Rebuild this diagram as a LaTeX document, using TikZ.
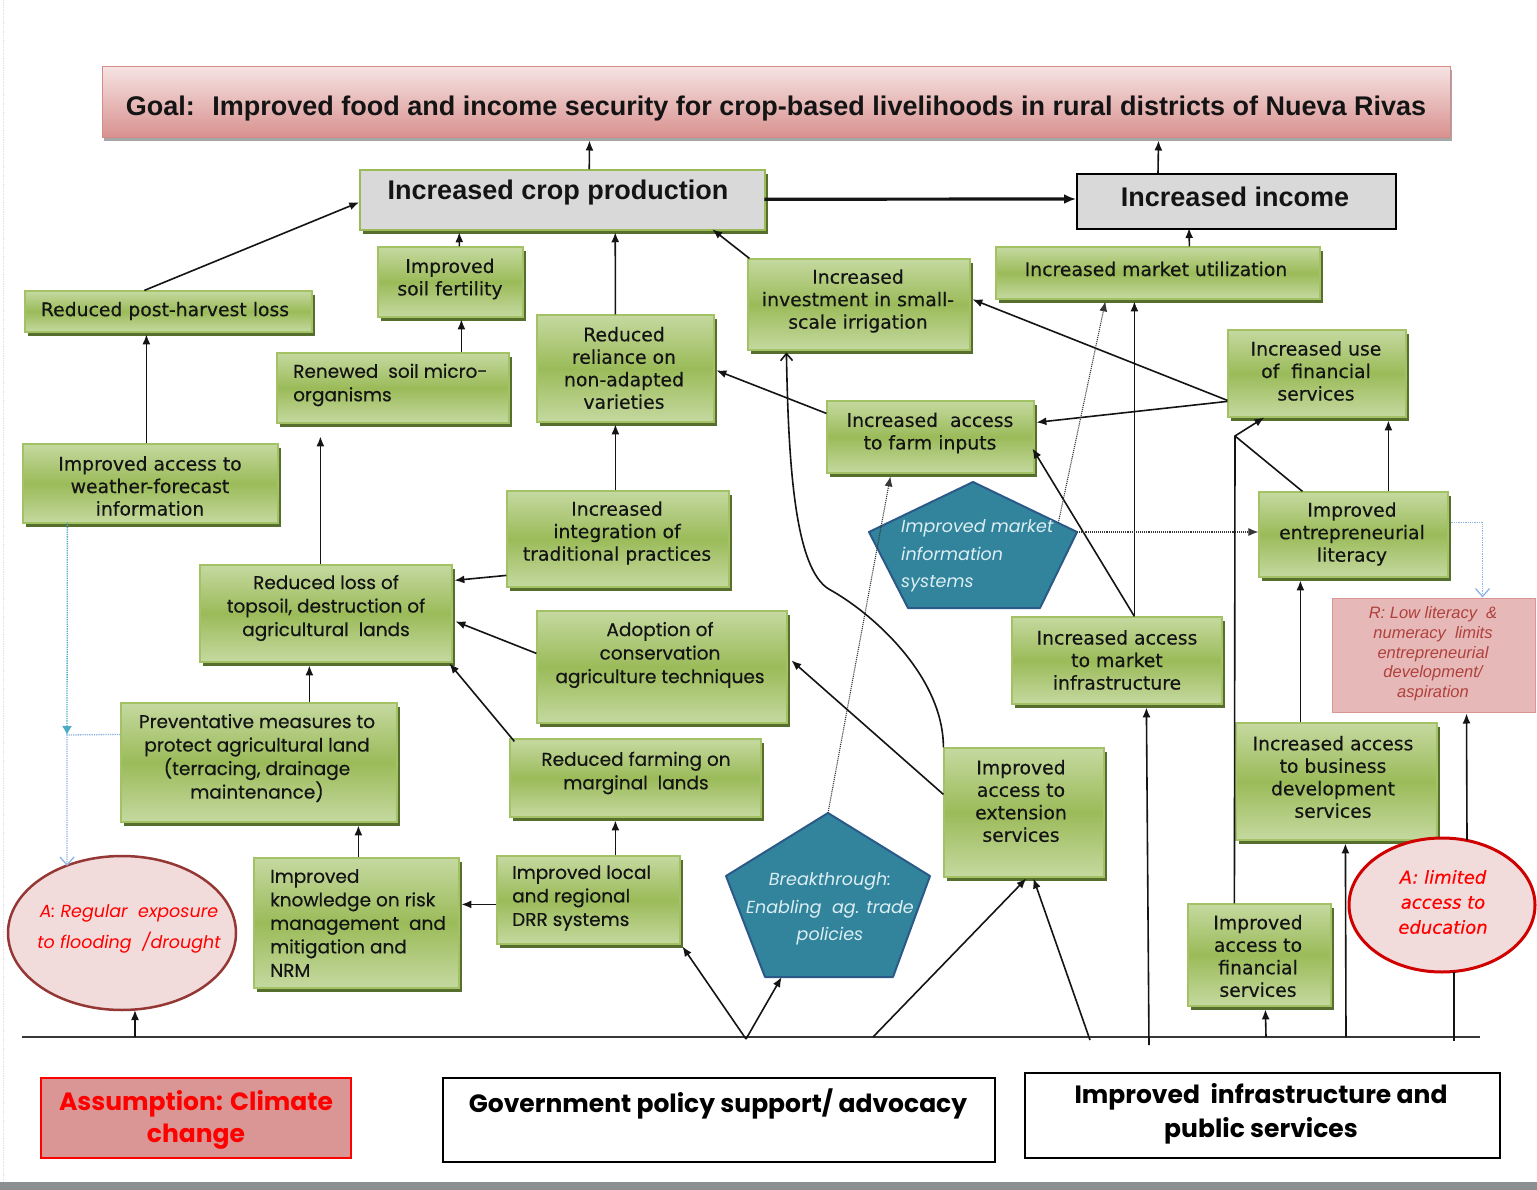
\documentclass[tikz,border=0pt]{standalone}
\usepackage{fontspec}
\setmainfont{DejaVu Sans}
\newfontfamily\tahfont[FakeBold=0.35]{DejaVu Sans}
\newfontfamily\geofont[FakeBold=0.35]{Poppins}
\newfontfamily\geoplain{Poppins}
\newfontfamily\headfont{Liberation Sans}
\newfontfamily\notefont{Liberation Sans}
\usetikzlibrary{arrows.meta,shapes.geometric,shadows,fit,calc}

\definecolor{ink}{HTML}{141414}
\definecolor{gLight}{HTML}{C5D9A0}
\definecolor{gMid}{HTML}{9BBB59}
\definecolor{gEdge}{HTML}{A3C266}
\definecolor{gShadow}{HTML}{566F2C}
\definecolor{pinkTop}{HTML}{F5E3E2}
\definecolor{pinkBot}{HTML}{D8908E}
\definecolor{pinkEdge}{HTML}{D48B89}
\definecolor{boxGray}{HTML}{D9D9D9}
\definecolor{tealFill}{HTML}{31849B}
\definecolor{tealEdge}{HTML}{2C5A88}
\definecolor{pentText}{HTML}{DCEEF4}
\definecolor{ellFill}{HTML}{F2DCDB}
\definecolor{ellEdgeA}{HTML}{953735}
\definecolor{ellEdgeB}{HTML}{D00000}
\definecolor{rFill}{HTML}{E6B9B8}
\definecolor{rEdge}{HTML}{D99694}
\definecolor{rText}{HTML}{B0403C}
\definecolor{assumeFill}{HTML}{D99694}
\definecolor{dotBlue}{HTML}{8DB3E2}
\definecolor{dotTeal}{HTML}{4BACC6}
\definecolor{barGray}{HTML}{8C8F92}

\tikzset{
  gbox/.style={draw=gEdge, line width=1.2pt, inner sep=0pt,
    top color=gLight, bottom color=gLight, middle color=gMid,
    drop shadow={shadow xshift=3pt, shadow yshift=-4pt, fill=gShadow, opacity=1}},
  gtext/.style={inner sep=0pt, align=center, text=ink,
    font=\tahfont\fontsize{18.8}{22.5}\selectfont},
  ctext/.style={inner sep=0pt, align=center, text=ink,
    font=\geofont\fontsize{18.5}{23.5}\selectfont},
  headtext/.style={inner sep=0pt, align=center, text=ink,
    font=\headfont\bfseries\fontsize{27}{30}\selectfont},
  ptext/.style={inner sep=0pt, align=center, text=pentText,
    font=\geoplain\itshape\fontsize{17.5}{27.5}\selectfont},
  pent/.style={fill=tealFill, draw=tealEdge, line width=2pt, line join=round},
  bottext/.style={inner sep=0pt, align=center, text=black,
    font=\geoplain\bfseries\fontsize{25}{34}\selectfont},
  plainbox/.style={draw=black, line width=2.5pt, fill=white, inner sep=0pt},
  arr/.style={draw=ink, line width=1.6pt, -{Latex[length=10pt,width=8pt]}},
  thickarr/.style={draw=ink, line width=3.2pt, -{Latex[length=12pt,width=10pt]}},
  link/.style={draw=ink, line width=1.6pt},
  dotarr/.style={draw=ink!85, line width=1.1pt, densely dotted, -{Latex[length=10pt,width=8pt]}},
  openarr/.style={draw=ink, line width=1.6pt, -{Straight Barb[length=7pt,width=12pt]}},
  bluedot/.style={draw=dotBlue, line width=1.3pt, densely dotted, -{Straight Barb[length=8pt,width=14pt]}},
  tealdot/.style={draw=dotTeal, line width=1.3pt, densely dotted, -{Latex[length=9pt,width=10pt]}},
  baseln/.style={draw=ink!85, line width=2.2pt}
}

% green result box: name, corners (x1,y1) (x2,y2), text position, text style, text
\newcommand{\gbox}[9]{%
  \node[gbox, fit={(#2,#3) (#4,#5)}] (#1) {};
  \node[#8] (#1-t) at (#6,#7) {#9};}

\begin{document}
\begin{tikzpicture}[x=1pt,y=-1pt]
\fill[white] (0,0) rectangle (1537,1190);
\useasboundingbox (0,0) rectangle (1537,1190);
\draw[gray!25, densely dotted, line width=0.8pt] (3,0) -- (3,1182);
\fill[barGray] (0,1182) rectangle (1537,1190);

% goal and top-level results
\node[fit={(102,67) (1450,138)}, inner sep=0pt, draw=pinkEdge, line width=1pt,
  top color=pinkTop, bottom color=pinkBot,
  drop shadow={shadow xshift=2pt, shadow yshift=-3pt, fill=black!35, opacity=1}] (goal) {};
\node[headtext] (goal-t) at (776,109) {Goal:~ Improved food and income security for crop-based livelihoods in rural districts of Nueva Rivas};

\node[fit={(360,170) (765,230)}, inner sep=0pt, fill=boxGray, draw=gMid, line width=1.5pt,
  drop shadow={shadow xshift=3pt, shadow yshift=-4pt, fill=gShadow, opacity=1}] (crop) {};
\node[headtext] (crop-t) at (558,193) {Increased crop production};

\node[fit={(1077,174) (1396,229)}, inner sep=0pt, fill=boxGray, draw=black, line width=2pt] (income) {};
\node[headtext] (income-t) at (1235,197) {Increased income};

% intermediate results
\gbox{pha}{25}{291}{312}{332}{165}{311}{gtext}{Reduced post-harvest loss}
\gbox{soil}{378}{247}{523}{317}{450}{279}{gtext}{Improved\\soil fertility}
\gbox{renew}{277}{353}{509}{423}{293}{385}{ctext,anchor=west,align=left}{Renewed~ soil micro-\\organisms}
\gbox{weather}{23}{444}{278}{523}{150}{486}{gtext}{Improved access to\\weather-forecast\\information}
\gbox{reliance}{537}{315}{714}{422}{624}{368}{gtext}{Reduced\\reliance on\\non-adapted\\varieties}
\gbox{irrig}{748}{259}{970}{350}{858}{301}{gtext}{Increased\\investment in small-\\scale irrigation}
\gbox{mutil}{996}{247}{1320}{299}{1156}{269}{gtext}{Increased market utilization}
\gbox{finuse}{1228}{330}{1406}{417}{1316}{371}{gtext}{Increased use\\of~ financial\\services}
\gbox{inputs}{827}{401}{1034}{473}{930}{433}{gtext}{Increased~ access\\to farm inputs}
\gbox{integ}{507}{491}{729}{587}{617}{533}{gtext}{Increased\\integration of\\traditional practices}
\gbox{topsoil}{200}{565}{452}{662}{326}{608}{ctext}{Reduced loss of\\topsoil, destruction of\\agricultural~ lands}
\gbox{entre}{1259}{492}{1448}{577}{1352}{534}{gtext}{Improved\\entrepreneurial\\literacy}
\gbox{minfra}{1012}{617}{1222}{704}{1117}{660}{gtext}{Increased access\\to market\\infrastructure}
\gbox{adopt}{537}{611}{787}{723}{660}{655}{ctext}{Adoption of\\conservation\\agriculture techniques}
\gbox{prevent}{121}{703}{397}{822}{257}{758}{ctext}{Preventative measures to\\protect agricultural land\\(terracing, drainage\\maintenance)}
\gbox{farming}{510}{739}{761}{817}{636}{773}{ctext}{Reduced farming on\\marginal~ lands}
\gbox{ext}{944}{748}{1104}{877}{1021}{801}{gtext}{Improved\\access to\\extension\\services}
\gbox{bds}{1236}{723}{1437}{840}{1333}{777}{gtext}{Increased access\\to business\\development\\services}
\gbox{know}{254}{858}{459}{988}{270}{923}{ctext,anchor=west,align=left}{Improved\\knowledge on risk\\management~ and\\mitigation and\\NRM}
\gbox{drr}{497}{856}{680}{944}{512}{898}{ctext,anchor=west,align=left}{Improved local\\and regional\\DRR systems}
\gbox{finacc}{1188}{904}{1331}{1006}{1258}{956}{gtext}{Improved\\access to\\financial\\services}

% pentagons
\path[pent] (973,482) coordinate (mis-top) -- (1077,532) coordinate (mis-right)
  -- (1040,608) coordinate (mis-br) -- (908,608) coordinate (mis-bl)
  -- (869,532) coordinate (mis-left) -- cycle;
\node[ptext, anchor=west, align=left] (mis) at (901,556) {Improved market\\information\\systems};

\path[pent] (828,813) coordinate (brk-top) -- (930,876) coordinate (brk-right)
  -- (893,977) coordinate (brk-br) -- (765,977) coordinate (brk-bl)
  -- (726,876) coordinate (brk-left) -- cycle;
\node[ptext] (brk) at (830,909) {Breakthrough:\\Enabling~ ag. trade\\policies};

% assumptions and risk
\node[ellipse, minimum width=228pt, minimum height=154pt, inner sep=0pt,
  fill=ellFill, draw=ellEdgeA, line width=2.5pt] (ellA) at (122,933) {};
\node[inner sep=0pt, align=center, text=red, font=\geoplain\itshape\fontsize{17.5}{31}\selectfont]
  (ellA-t) at (129,929) {A: Regular~ exposure\\to flooding~ /drought};

\node[ellipse, minimum width=186pt, minimum height=134pt, inner sep=0pt,
  fill=ellFill, draw=ellEdgeB, line width=3pt] (ellB) at (1442,905) {};
\node[inner sep=0pt, align=center, text=red, font=\tahfont\itshape\fontsize{18}{25}\selectfont]
  (ellB-t) at (1443,902) {A: limited\\access to\\education};

\node[fit={(1332,598) (1535,712)}, inner sep=0pt, fill=rFill, draw=rEdge, line width=1pt] (rbox) {};
\node[inner sep=0pt, align=center, text=rText, font=\notefont\itshape\fontsize{16.5}{19.7}\selectfont]
  (rbox-t) at (1433,654) {R: Low literacy~ \&\\numeracy~ limits\\entrepreneurial\\development/\\aspiration};

% bottom drivers
\node[fit={(41,1078) (351,1158)}, inner sep=0pt, fill=assumeFill, draw=red, line width=1.5pt] (assume) {};
\node[inner sep=0pt, align=center, text=red, font=\geoplain\bfseries\fontsize{25}{32}\selectfont]
  (assume-t) at (196,1120) {Assumption: Climate\\change};
\node[plainbox, fit={(443,1078) (995,1162)}] (gov) {};
\node[bottext] (gov-t) at (718,1104) {Government policy support/ advocacy};
\node[plainbox, fit={(1025,1073) (1500,1158)}] (infra) {};
\node[bottext] (infra-t) at (1261,1114) {Improved~ infrastructure and\\public services};

% base line and its branch points
\coordinate (bl) at (22,1037);
\coordinate (br) at (1480,1037);
\coordinate (b-ell) at (135,1037);
\coordinate (b-v) at (746,1039);
\coordinate (b-ext1) at (873,1037);
\coordinate (b-ext2) at (1090,1040);
\coordinate (b-mi) at (1149,1045);
\coordinate (b-fa) at (1266,1037);
\coordinate (b-bd) at (1346,1037);
\coordinate (b-eb) at (1454,1041);
\draw[baseln] (bl) -- (br);

% links to the goal and top results
\draw[arr] ($(crop.north west)+(230,0)$) -- ($(goal.north west)+(488,74)$);
\draw[arr] ($(income.north west)+(82,0)$) -- ($(goal.north west)+(1057,74)$);
\draw[thickarr] ($(crop.north west)+(405,30)$) -- ($(income.north west)+(0,26)$);
\draw[arr] ($(mutil.north west)+(194,0)$) -- ($(income.north west)+(113,55)$);
\draw[arr] ($(pha.north west)+(120,0)$) -- ($(crop.north west)+(0,33)$);
\draw[arr] ($(soil.north west)+(82,0)$) -- ($(crop.north west)+(100,63)$);
\draw[arr] ($(reliance.north west)+(79,0)$) -- ($(crop.north west)+(256,63)$);
\draw[arr] ($(irrig.north west)+(2,0)$) -- ($(crop.north west)+(353,60)$);

% middle layer
\draw[arr] ($(weather.north west)+(124,0)$) -- ($(pha.north west)+(122,44)$);
\draw[arr] ($(renew.north west)+(185,0)$) -- ($(soil.north west)+(84,73)$);
\draw[arr] ($(topsoil.north west)+(121,0)$) -- ($(renew.north west)+(44,84)$);
\draw[arr] ($(integ.north west)+(109,0)$) -- ($(reliance.north west)+(79,110)$);
\draw[arr] ($(inputs.north west)+(0,13)$) -- ($(reliance.north west)+(180,56)$);
\draw[arr] ($(finuse.north west)+(0,71)$) -- ($(irrig.north west)+(225,41)$);
\draw[arr] ($(finuse.north west)+(0,72)$) -- ($(inputs.north west)+(210,22)$);
\draw[arr] ($(minfra.north west)+(123,0)$) -- ($(inputs.north west)+(206,48)$);
\draw[arr] ($(minfra.north west)+(123,0)$) -- ($(mutil.north west)+(139,55)$);
\draw[dotarr] ($(mis-top)!0.82!(mis-right)$) -- ($(mutil.north west)+(110,55)$);
\draw[dotarr] (mis-right) -- (mis-right -| entre.west);
\draw[dotarr] (brk-top) -- ($(inputs.north west)+(64,76)$);
\draw[openarr] (ext.north west) .. controls +(0,-70) and +(45,25) .. ($(ext.north west)+(-114,-158)$)
  .. controls +(-35,-20) and +(2,110) .. ($(irrig.north west)+(39,94)$);
\draw[arr] ($(ext.north west)+(0,47)$) -- ($(adopt.north west)+(255,50)$);
\draw[arr] ($(integ.north west)+(0,85)$) -- ($(topsoil.north west)+(255,16)$);
\draw[arr] ($(adopt.north west)+(0,43)$) -- ($(topsoil.north west)+(256,57)$);
\draw[arr] ($(farming.north west)+(5,3)$) -- ($(topsoil.north west)+(250,99)$);
\draw[arr] ($(prevent.north west)+(189,0)$) -- ($(topsoil.north west)+(110,101)$);
\draw[arr] ($(know.north west)+(105,0)$) -- ($(prevent.north west)+(238,123)$);
\draw[arr] ($(drr.north west)+(0,49)$) -- ($(know.north west)+(208,47)$);
\draw[arr] ($(drr.north west)+(119,0)$) -- ($(farming.north west)+(106,82)$);

% links rising from the base line
\draw[arr] (b-ell) -- ($(ellA.center)+(13,77)$);
\draw[arr] (b-v) -- ($(drr.north west)+(186,91)$);
\draw[arr] (b-v) -- ($(brk-bl)!0.13!(brk-br)$);
\draw[arr] (b-ext1) -- ($(ext.north west)+(83,131)$);
\draw[arr] (b-ext2) -- ($(ext.north west)+(90,131)$);
\draw[arr] (b-mi) -- ($(minfra.north west)+(135,91)$);
\draw[arr] (b-fa) -- ($(finacc.north west)+(78,106)$);
\draw[arr] (b-bd) -- ($(bds.north west)+(110,121)$);
\draw[link] ($(ellB.center)+(12,67)$) -- (b-eb);

% right-hand column
\coordinate (jn) at (1235,436);
\draw[arr] ($(finacc.north west)+(47,0)$) -- (jn) -- ($(finuse.north west)+(37,88)$);
\draw[link] ($(entre.north west)+(44,0)$) -- (jn);
\draw[arr] ($(entre.north west)+(130,0)$) -- ($(finuse.north west)+(161,91)$);
\draw[arr] ($(bds.north west)+(65,0)$) -- ($(entre.north west)+(42,89)$);
\draw[arr] ($(ellB.center)+(25,-65)$) -- ($(rbox.north west)+(135,116)$);
\draw[bluedot] ($(entre.north west)+(193,31)$) -| ($(rbox.north west)+(151,0)$);

% dotted risk links on the left
\coordinate (pj) at (67,735);
\draw[tealdot] ($(weather.north west)+(45,79)$) -- (pj);
\draw[bluedot] ($(prevent.north west)+(0,32)$) -- (pj) -- ($(ellA.center)+(-55,-67)$);
\end{tikzpicture}
\end{document}
